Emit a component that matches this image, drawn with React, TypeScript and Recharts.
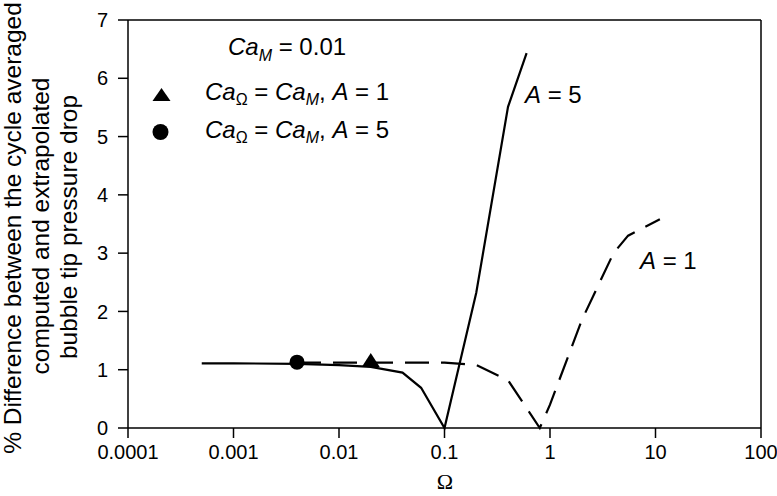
import { ComposedChart, Line, Scatter, XAxis, YAxis, ReferenceLine } from 'recharts';

// Ω values and % difference
const omegaA5 = [0.0005, 0.001, 0.004, 0.01, 0.02, 0.04, 0.06, 0.1, 0.2, 0.4, 0.6];
const diffA5 = [1.11, 1.11, 1.1, 1.08, 1.05, 0.95, 0.69, 0, 2.32, 5.51, 6.43];

const omegaA1 = [0.004, 0.02, 0.1, 0.2, 0.4, 0.8, 1, 2, 4, 5.5, 11];
const diffA1 = [1.12, 1.12, 1.12, 1.08, 0.82, 0, 0.4, 1.85, 3.0, 3.3, 3.58];

// Ca_Ω = Ca_M points
const markerA1 = [{ x: 0.02, y: 1.15 }];
const markerA5 = [{ x: 0.004, y: 1.13 }];

const xTicks = [0.0001, 0.001, 0.01, 0.1, 1, 10, 100];
const yTicks = [0, 1, 2, 3, 4, 5, 6, 7];

const SANS = '"Liberation Sans", Arial, Helvetica, sans-serif';
const SERIF = '"Liberation Serif", "Times New Roman", serif';

const toPoints = (xs: number[], ys: number[]) => xs.map((x, i) => ({ x, y: ys[i] }));

const dataA5 = toPoints(omegaA5, diffA5);
const dataA1 = toPoints(omegaA1, diffA1);

const CircleMark = (props: any) => <circle cx={props.cx} cy={props.cy} r={7.5} fill="#000" />;

const TriangleMark = (props: any) => {
  const { cx, cy } = props;
  return <polygon points={`${cx},${cy - 8} ${cx + 9},${cy + 6} ${cx - 9},${cy + 6}`} fill="#000" />;
};

export default function App() {
  return (
    <div style={{ position: 'absolute', left: 0, top: 0, width: 777, height: 496, background: '#fff' }}>
      <ComposedChart width={777} height={496} margin={{ top: 20, right: 16, bottom: 0, left: 0 }}>
        <XAxis
          type="number"
          dataKey="x"
          scale="log"
          domain={[0.0001, 100]}
          allowDataOverflow
          ticks={xTicks}
          interval={0}
          tickFormatter={(v) => String(v)}
          height={68}
          tickSize={10}
          tickMargin={7}
          axisLine={{ stroke: '#000', strokeWidth: 1.5 }}
          tickLine={{ stroke: '#000', strokeWidth: 1.5 }}
          tick={{ fill: '#000', fontSize: 20, fontFamily: SANS }}
        />
        <YAxis
          type="number"
          domain={[0, 7]}
          ticks={yTicks}
          interval={0}
          width={128}
          tickSize={10}
          tickMargin={10}
          axisLine={{ stroke: '#000', strokeWidth: 1.5 }}
          tickLine={{ stroke: '#000', strokeWidth: 1.5 }}
          tick={{ fill: '#000', fontSize: 20, fontFamily: SANS }}
        />
        <ReferenceLine y={7} stroke="#000" strokeWidth={1.5} />
        <ReferenceLine x={100} stroke="#000" strokeWidth={1.5} />
        <Line
          data={dataA1}
          dataKey="y"
          type="linear"
          stroke="#000"
          strokeWidth={2.2}
          strokeDasharray="24 12"
          dot={false}
          isAnimationActive={false}
        />
        <Line
          data={dataA5}
          dataKey="y"
          type="linear"
          stroke="#000"
          strokeWidth={2.2}
          dot={false}
          isAnimationActive={false}
        />
        <Scatter data={markerA5} dataKey="y" shape={CircleMark} isAnimationActive={false} />
        <Scatter data={markerA1} dataKey="y" shape={TriangleMark} isAnimationActive={false} />
      </ComposedChart>

      {/* annotations, legend and axis titles */}
      <svg
        width={777}
        height={496}
        style={{ position: 'absolute', left: 0, top: 0, pointerEvents: 'none' }}
        fontFamily={SANS}
        fill="#000"
      >
        <text fontSize={24.5} transform="translate(21,228) rotate(-90)" textAnchor="middle">
          % Difference between the cycle averaged
        </text>
        <text fontSize={24.5} transform="translate(49,226) rotate(-90)" textAnchor="middle">
          computed and extrapolated
        </text>
        <text fontSize={24.5} transform="translate(77,227) rotate(-90)" textAnchor="middle">
          bubble tip pressure drop
        </text>

        <text x={445} y={489} fontSize={22} fontFamily={SERIF} textAnchor="middle">
          Ω
        </text>

        <text x={228} y={55} fontSize={24}>
          <tspan fontStyle="italic">Ca</tspan>
          <tspan fontStyle="italic" fontSize={16} dy={6}>M</tspan>
          <tspan dy={-6}> = 0.01</tspan>
        </text>

        <polygon points="161.5,88 170.5,101 152.5,101" fill="#000" />
        <text x={205} y={100} fontSize={24}>
          <tspan fontStyle="italic">Ca</tspan>
          <tspan fontSize={16} dy={5}>Ω</tspan>
          <tspan dy={-5}> = </tspan>
          <tspan fontStyle="italic">Ca</tspan>
          <tspan fontStyle="italic" fontSize={16} dy={5}>M</tspan>
          <tspan dy={-5}>, </tspan>
          <tspan fontStyle="italic">A</tspan>
          <tspan> = 1</tspan>
        </text>

        <circle cx={160.5} cy={132} r={8} fill="#000" />
        <text x={205} y={138} fontSize={24}>
          <tspan fontStyle="italic">Ca</tspan>
          <tspan fontSize={16} dy={5}>Ω</tspan>
          <tspan dy={-5}> = </tspan>
          <tspan fontStyle="italic">Ca</tspan>
          <tspan fontStyle="italic" fontSize={16} dy={5}>M</tspan>
          <tspan dy={-5}>, </tspan>
          <tspan fontStyle="italic">A</tspan>
          <tspan> = 5</tspan>
        </text>

        <text x={525} y={103} fontSize={24}>
          <tspan fontStyle="italic">A</tspan>
          <tspan> = 5</tspan>
        </text>
        <text x={640} y={269} fontSize={24}>
          <tspan fontStyle="italic">A</tspan>
          <tspan> = 1</tspan>
        </text>
      </svg>
    </div>
  );
}
